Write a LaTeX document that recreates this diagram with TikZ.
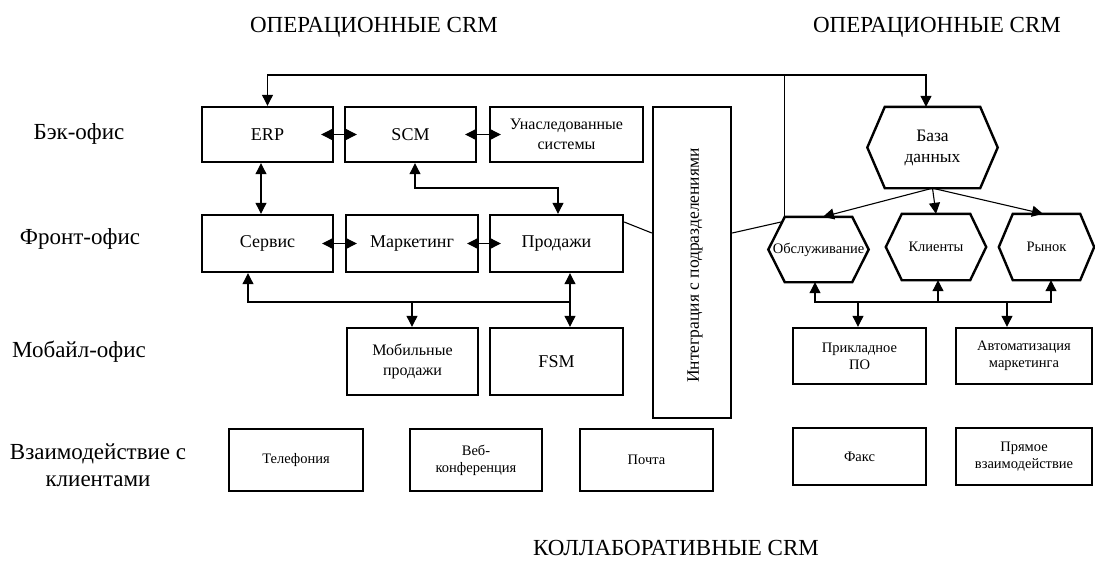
\documentclass[tikz,border=0pt]{standalone}
\usepackage{fontspec}
\setmainfont{Liberation Serif}
\usepackage{graphicx}
\usetikzlibrary{arrows.meta,calc}
\begin{document}
\begin{tikzpicture}[x=1pt,y=-1pt,
  >={Triangle[length=11pt,width=11pt]},
  box/.style={draw, line width=2.4pt, rectangle, inner sep=0pt, align=center},
  hexn/.style={rectangle, inner sep=0pt, align=center},
  hexline/.style={line width=2.4pt, line join=miter},
  conn/.style={line width=1.1pt},
  ttl/.style={font=\fontsize{23}{27}\selectfont},
  lab/.style={font=\fontsize{23}{27}\selectfont, align=center},
  fmain/.style={font=\fontsize{18}{22}\selectfont},
  ftwo/.style={font=\fontsize{16}{20.5}\selectfont},
  fsmall/.style={font=\fontsize{14.5}{17}\selectfont},
  fdb/.style={font=\fontsize{17.5}{21}\selectfont},
  fvert/.style={font=\fontsize{17.5}{21}\selectfont}
]
\fill[white] (0,0) rectangle (1095,566);
\useasboundingbox (0,0) rectangle (1095,566);

% titles
\node[ttl] (t1) at (374,27) {ОПЕРАЦИОННЫЕ CRM};
\node[ttl] (t2) at (937,27) {ОПЕРАЦИОННЫЕ CRM};
\node[ttl] (t3) at (676,548) {КОЛЛАБОРАТИВНЫЕ CRM};

% left labels
\node[lab] (l1) at (79,134) {Бэк-офис};
\node[lab] (l2) at (80,239) {Фронт-офис};
\node[lab] (l3) at (79,352) {Мобайл-офис};
\node[lab] (l4) at (98,465) {Взаимодействие с\\клиентами};

% back office
\node[box, fmain, minimum width=131, minimum height=55] (erp) at (267.5,134.5) {ERP};
\node[box, fmain, minimum width=131, minimum height=55] (scm) at (410.5,134.5) {SCM};
\node[box, ftwo, minimum width=153, minimum height=55] (unasl) at (566.5,134.5) {Унаследованные\\системы};

% integration
\node[box, minimum width=78, minimum height=311] (integr) at (692,262.5) {};
\node[fvert] (integrtxt) at (695,265.5) {\rotatebox{90}{Интеграция с подразделениями}};

% front office
\node[box, fmain, minimum width=131, minimum height=57] (serv) at (267.5,243.5) {Сервис};
\node[box, fmain, minimum width=132, minimum height=57] (mark) at (412,243.5) {Маркетинг};
\node[box, fmain, minimum width=133, minimum height=57] (prod) at (556.5,243.5) {Продажи};

% mobile office
\node[box, ftwo, minimum width=131, minimum height=67] (mob) at (412.5,361.5) {Мобильные\\продажи};
\node[box, fmain, minimum width=133, minimum height=67] (fsm) at (556.5,361.5) {FSM};

% interaction
\node[box, fsmall, minimum width=134, minimum height=62] (tel) at (296,460) {Телефония};
\node[box, fsmall, minimum width=132, minimum height=62] (web) at (476,460) {Веб-\\конференция};
\node[box, fsmall, minimum width=133, minimum height=62] (mail) at (646.5,460) {Почта};

% right side
\node[box, fsmall, minimum width=133, minimum height=56] (prikl) at (859.5,356) {Прикладное\\ПО};
\node[box, fsmall, minimum width=136, minimum height=56] (avto) at (1024,356) {Автоматизация\\маркетинга};
\node[box, fsmall, minimum width=133, minimum height=57] (fax) at (859.5,456.5) {Факс};
\node[box, fsmall, minimum width=136, minimum height=57] (direct) at (1024,456.5) {Прямое\\взаимодействие};

% hexagons
\node[hexn, fdb, minimum width=95, minimum height=81] (db) at (932.5,147.5) {База\\данных};
\node[hexn, fsmall, minimum width=67, minimum height=65] (obs) at (818.5,249.5) {\makebox[0pt]{Обслуживание}};
\node[hexn, fsmall, minimum width=68, minimum height=66] (kli) at (936,247) {Клиенты};
\node[hexn, fsmall, minimum width=67, minimum height=66] (ryn) at (1046.5,247) {Рынок};
\foreach \n/\d in {db/17.5,obs/16.5,kli/16,ryn/14}
  \draw[hexline] (\n.north west) -- (\n.north east) -- ([xshift=\d pt]\n.east)
    -- (\n.south east) -- (\n.south west) -- ([xshift=-\d pt]\n.west) coordinate (\n-w) -- cycle;

% helper coordinates
\coordinate (topy) at (0,75);
\coordinate (scmy) at (0,188);
\coordinate (busy) at (0,302);

% connectors
\draw[conn,<->] (erp.north) -- (erp.north |- topy) -- ([xshift=-6.5pt]db.north |- topy) -- ([xshift=-6.5pt]db.north);
\draw[conn] (obs.north west |- topy) -- (obs.north west);
\draw[conn,<->] ([xshift=-13pt]erp.east) -- ([xshift=13pt]scm.west);
\draw[conn,<->] ([xshift=-12pt]scm.east) -- ([xshift=12pt]unasl.west);
\draw[conn,<->] ([xshift=-6.5pt]erp.south) -- ([xshift=-6.5pt]serv.north);
\draw[conn,<->] ([xshift=4.5pt]scm.south) -- ([xshift=4.5pt]scm.south |- scmy) -| ([xshift=1.5pt]prod.north);
\draw[conn,<->] ([xshift=-12pt]serv.east) -- ([xshift=12pt]mark.west);
\draw[conn,<->] ([xshift=-12pt]mark.east) -- ([xshift=12pt]prod.west);
\draw[conn,<->] ([xshift=13.5pt]prod.south) -- ([xshift=13.5pt]fsm.north);
\draw[conn,->] ([xshift=13.5pt]prod.south |- busy) -| ([xshift=-19.5pt]serv.south);
\draw[conn,->] ([xshift=-0.5pt]mob.north |- busy) -- ([xshift=-0.5pt]mob.north);
\draw[conn] ([yshift=21.5pt]prod.east) -- ([yshift=29.5pt]integr.west);
\draw[conn] ([yshift=29.5pt]integr.east) -- ($(obs.north west)!0.15!(obs-w)$);
\draw[conn,->] (db.south) -- ([xshift=4.5pt]obs.north);
\draw[conn,->] (db.south) -- (kli.north);
\draw[conn,->] (db.south) -- ([xshift=-3.5pt]ryn.north);
\draw[conn,<->] ([xshift=-3.5pt]obs.south) -- ([xshift=-3.5pt]obs.south |- busy) -| ([xshift=4.5pt]ryn.south);
\draw[conn,->] ([xshift=2pt]kli.south |- busy) -- ([xshift=2pt]kli.south);
\draw[conn,->] ([xshift=-1.5pt]prikl.north |- busy) -- ([xshift=-1.5pt]prikl.north);
\draw[conn,->] ([xshift=-17pt]avto.north |- busy) -- ([xshift=-17pt]avto.north);
\end{tikzpicture}
\end{document}
